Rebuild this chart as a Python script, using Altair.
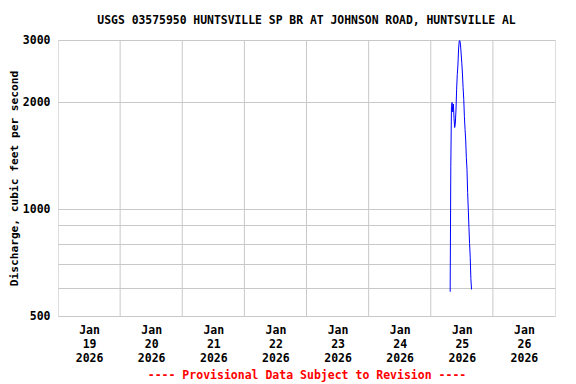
import altair as alt
import pandas as pd

# ---- data ----
start_time = "2026-01-25T07:30:00Z"
discharge = [585, 1318, 1950, 2000, 1880, 1980, 1800, 1700, 1750, 1905, 2180,
             2400, 2550, 2830, 2980, 2990, 2904, 2740, 2580, 2406, 2200, 2041,
             1823, 1680, 1567, 1400, 1296, 1114, 1000, 889, 800, 732, 638, 594]
times = pd.date_range(start=start_time, periods=len(discharge), freq="15min")

grid_days = ["2026-01-20T00:00:00Z", "2026-01-21T00:00:00Z", "2026-01-22T00:00:00Z",
             "2026-01-23T00:00:00Z", "2026-01-24T00:00:00Z", "2026-01-25T00:00:00Z",
             "2026-01-26T00:00:00Z"]
label_days = [19, 20, 21, 22, 23, 24, 25, 26]
y_ticks = [500, 600, 700, 800, 900, 1000, 2000, 3000]
y_labels = [500, 1000, 2000, 3000]

title_text = "USGS 03575950 HUNTSVILLE SP BR AT JOHNSON ROAD, HUNTSVILLE AL"
y_title = "Discharge, cubic feet per second"
footer = "---- Provisional Data Subject to Revision ----"

df = pd.DataFrame({"time": times.strftime("%Y-%m-%dT%H:%M:%SZ"), "q": discharge})
grid_df = pd.DataFrame({"time": grid_days})

FONT = "DejaVu Sans Mono"

x_domain = [alt.DateTime(year=2026, month=1, date=19, hours=0, utc=True),
            alt.DateTime(year=2026, month=1, date=27, hours=0, utc=True)]
x_values = [alt.DateTime(year=2026, month=1, date=d, hours=12, utc=True) for d in label_days]

x_scale = alt.Scale(type="utc", domain=x_domain)

ylab_expr = "indexof([" + ",".join(str(v) for v in y_labels) + "], datum.value) >= 0 ? format(datum.value, 'd') : ''"

grid = alt.Chart(grid_df).mark_rule(color="#c8c8c8", strokeWidth=1).encode(
    x=alt.X("time:T", scale=x_scale)
)

line = alt.Chart(df).mark_line(color="#0000ff", strokeWidth=1).encode(
    x=alt.X(
        "time:T",
        scale=x_scale,
        axis=alt.Axis(
            values=x_values,
            labelExpr="[utcFormat(datum.value, '%b'), utcFormat(datum.value, '%d'), utcFormat(datum.value, '%Y')]",
            grid=False,
            ticks=False,
            domain=False,
            labelPadding=8,
            labelBaseline="top",
            labelLineHeight=14,
            labelFlush=False,
            labelOverlap=False,
            labelFont=FONT,
            labelFontSize=11.5,
            labelFontWeight="bold",
            labelColor="black",
            title=footer,
            titleColor="#ff0000",
            titleFont=FONT,
            titleFontSize=11.5,
            titleFontWeight="bold",
            titlePadding=6,
        ),
    ),
    y=alt.Y(
        "q:Q",
        scale=alt.Scale(type="log", domain=[500, 3000], nice=False),
        axis=alt.Axis(
            values=y_ticks,
            labelExpr=ylab_expr,
            grid=True,
            gridColor="#c8c8c8",
            gridWidth=1,
            ticks=False,
            domain=False,
            labelPadding=8,
            labelBaseline="middle",
            labelFlush=False,
            labelOverlap=False,
            labelFont=FONT,
            labelFontSize=11.5,
            labelFontWeight="bold",
            labelColor="black",
            title=y_title,
            titleFont=FONT,
            titleFontSize=11.2,
            titleFontWeight="bold",
            titleColor="black",
            titleX=-44,
            titleY=138,
            titleAlign="center",
            titleBaseline="middle",
            titleAngle=-90,
        ),
    ),
)

chart = alt.layer(grid, line).properties(
    width=497,
    height=276,
    title=alt.TitleParams(
        title_text, font=FONT, fontSize=11.4, fontWeight="bold", color="black",
        anchor="middle", frame="group", offset=8,
    ),
    autosize=alt.AutoSizeParams(type="none"),
    padding={"left": 50, "top": 32, "right": 13, "bottom": 68},
).configure_view(stroke="black", strokeWidth=1.5).configure(background="white")

chart.save("out.html", embed_options={"renderer": "svg", "actions": False})
